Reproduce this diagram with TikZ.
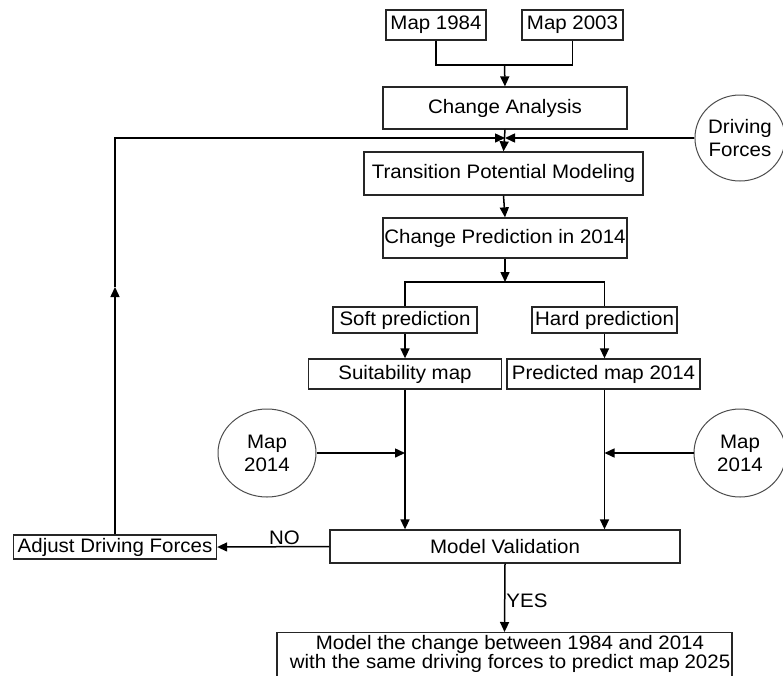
\documentclass[tikz,border=0pt]{standalone}
\usepackage{fontspec}
\setmainfont{Liberation Sans}[FakeStretch=1.05]
\usetikzlibrary{arrows.meta,shapes.geometric,calc}

\tikzset{
  txt/.style={font=\fontsize{19.5}{23}\selectfont},
  box/.style={txt, draw=black!85, line width=1.3pt, rectangle, inner sep=0pt,
              align=center},
  blob/.style={txt, draw=black!70, line width=1pt, ellipse, inner sep=0pt,
               align=center},
  conn/.style={line width=1.5pt, draw=black},
  arr/.style={conn, -{Triangle[length=10pt,width=9pt]}},
  tag/.style={txt, inner sep=1pt}
}

\begin{document}
\begin{tikzpicture}[x=1pt,y=-1pt]
\useasboundingbox (0,0) rectangle (783,675);

% input maps
\node[box, minimum width=100, minimum height=30] (m84) at (436,25) {Map 1984};
\node[box, minimum width=101, minimum height=30] (m03) at (572.5,25) {Map 2003};

% main chain
\node[box, minimum width=244, minimum height=42] (ca)   at (505,108) {Change Analysis};
\node[box, minimum width=279, minimum height=43] (tpm)  at (503.5,173.5) {Transition Potential Modeling};
\node[box, minimum width=244, minimum height=40] (cp)   at (505,238) {Change Prediction in 2014};

% two branches
\node[box, minimum width=144, minimum height=26] (soft) at (405,320) {Soft prediction};
\node[box, minimum width=145, minimum height=26] (hard) at (604.5,320) {Hard prediction};
\node[box, minimum width=193, minimum height=30] (suit) at (405,374) {Suitability map};
\node[box, minimum width=193, minimum height=30] (pred) at (603.5,374) {Predicted map 2014};

% validation and outcomes
\node[box, minimum width=350, minimum height=33] (mv)  at (505,546.5) {Model Validation};
\node[box, minimum width=203, minimum height=24] (adj) at (115,547) {Adjust Driving Forces};
\node[box, minimum width=455, minimum height=58, anchor=north] (fin) at (504.5,632) {};
\node[txt, align=center, inner sep=0pt, font=\fontsize{19.5}{18}\selectfont] (fintext) at (510,654)
  {Model the change between 1984 and 2014\\with the same driving forces to predict map 2025};

% circular inputs
\node[blob, minimum width=90, minimum height=86] (df) at (740,138) {Driving\\Forces};
\node[blob, minimum width=98, minimum height=88] (ml) at (267,453) {Map\\2014};
\node[blob, minimum width=92, minimum height=88] (mr) at (740,453) {Map\\2014};

% junctions
\coordinate (j1) at (504.5,65);
\coordinate (j2) at (505,138);
\coordinate (j3) at (505,282);
\coordinate (upA) at (115,287);

% connectors
\draw[conn] (m84.south) |- (j1) -| (m03.south);
\draw[arr] (j1) -- (ca.north);
\draw[arr] (ca.south) -- (tpm.north);
\draw[arr] (adj.north) -- (upA);
\draw[arr] (upA) |- (j2);
\draw[arr] (df.west) -- (j2);
\draw[arr] (tpm.south) -- (cp.north);
\draw[arr] (cp.south) -- (j3);
\draw[conn] (soft.north) |- (j3) -| (hard.north);
\draw[arr] (soft.south) -- (soft.south |- suit.north);
\draw[arr] (hard.south) -- (hard.south |- pred.north);
\draw[arr] (suit.south) -- (suit.south |- mv.north);
\draw[arr] (hard.south |- pred.south) -- (hard.south |- mv.north);
\draw[arr] (ml.east) -- (ml.east -| suit.south);
\draw[arr] (mr.west) -- (mr.west -| hard.south);
\draw[arr] (mv.west) -- node[tag, pos=0.4, above] {NO} (adj.east);
\draw[arr] (mv.south) -- node[tag, pos=0.55, right] {YES} (fin.north);
\end{tikzpicture}
\end{document}
